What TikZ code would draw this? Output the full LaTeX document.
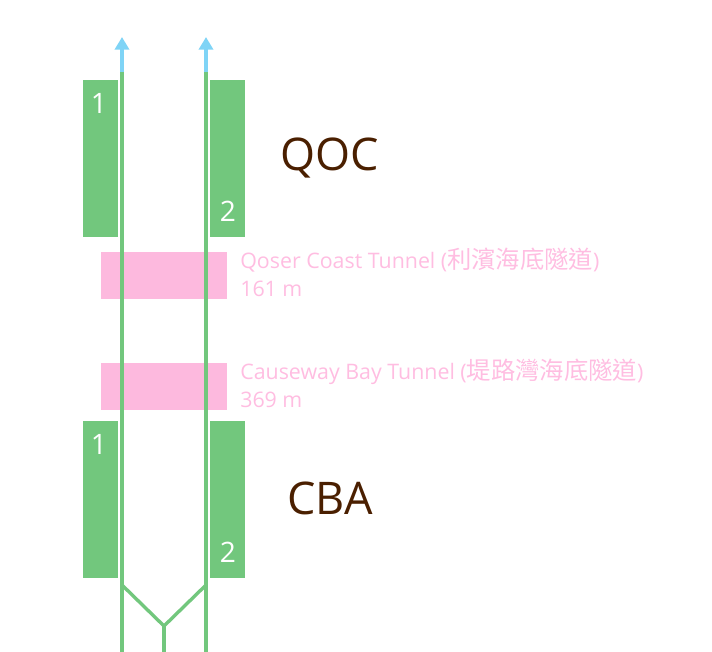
\documentclass[tikz,border=0pt]{standalone}
\usepackage{fontspec}
\setmainfont{Open Sans}
\newfontfamily\cjk{Noto Sans CJK TC}
\usetikzlibrary{positioning,arrows.meta}
\definecolor{platgreen}{HTML}{72C77D}
\definecolor{trackblue}{HTML}{7FD4F6}
\definecolor{tunnelpink}{HTML}{FDB9DE}
\definecolor{tunneltext}{HTML}{FFBDE1}
\definecolor{stnbrown}{HTML}{4A1F00}
\tikzset{
  platform/.style={fill=platgreen,minimum width=0.875cm,minimum height=3.925cm,inner sep=0pt},
  platnum/.style={text=white,font=\fontsize{20}{22}\selectfont,inner sep=0pt},
  tunnel/.style={fill=tunnelpink,minimum width=3.15cm,minimum height=1.15cm,inner sep=0pt},
  tunnellabel/.style={text=tunneltext,align=left,anchor=north west,inner sep=0pt,
            font=\fontsize{15.2}{20}\selectfont},
  stnname/.style={text=stnbrown,font=\fontsize{32}{36}\selectfont,inner sep=0pt},
  track/.style={platgreen,line width=2.4pt},
  trackend/.style={-{Triangle[width=10pt,length=9pt]},trackblue,line width=2.4pt},
}
\newcommand{\cjktext}[1]{{\cjk\fontsize{17.3}{20}\selectfont #1}}
\begin{document}
\begin{tikzpicture}[x=0.025cm,y=-0.025cm]
  \useasboundingbox (0,0) rectangle (712,652);
  % tunnels under the harbour
  \node[tunnel] (t1) at (164,275.5) {};
  \node[tunnel] (t2) at (164,386.5) {};
  \node[tunnellabel] (t1l) at (240,248) {Qoser Coast Tunnel (\cjktext{利濱海底隧道})\\161 m};
  \node[tunnellabel] (t2l) at (240,359) {Causeway Bay Tunnel (\cjktext{堤路灣海底隧道})\\369 m};
  % platforms
  \node[platform] (q1) at (100.5,158.5) {};
  \node[platform] (q2) at (227.5,158.5) {};
  \node[platform] (c1) at (100.5,499.5) {};
  \node[platform] (c2) at (227.5,499.5) {};
  \node[platnum] (q1n) at (99,103) {1};
  \node[platnum] (q2n) at (228,211) {2};
  \node[platnum] (c1n) at (99,444) {1};
  \node[platnum] (c2n) at (228,552) {2};
  \node[stnname] (qoc) at (330,158) {QOC};
  \node[stnname] (cba) at (330,498) {CBA};
  % tracks
  \coordinate (la) at (122,37);
  \coordinate (lb) at (122,72);
  \coordinate (lx) at (122,585);
  \coordinate (lz) at (122,652);
  \coordinate (ra) at (206,37);
  \coordinate (rb) at (206,72);
  \coordinate (rx) at (206,585);
  \coordinate (rz) at (206,652);
  \coordinate (mx) at (164,626);
  \coordinate (mz) at (164,652);
  \draw[track] (lz) -- (lb);
  \draw[track] (rz) -- (rb);
  \draw[trackend] (lb) -- (la);
  \draw[trackend] (rb) -- (ra);
  \draw[track] (lx) -- (mx) -- (rx);
  \draw[track] (mx) -- (mz);
\end{tikzpicture}
\end{document}
